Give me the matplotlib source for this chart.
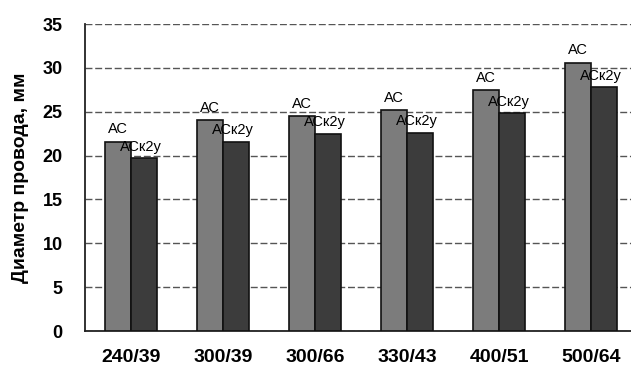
import numpy as np
import matplotlib
matplotlib.use("Agg")
import matplotlib.pyplot as plt

plt.rcParams['font.family'] = ['Liberation Sans', 'DejaVu Sans']

# данные
categories = ["240/39", "300/39", "300/66", "330/43", "400/51", "500/64"]
ac = [21.6, 24.0, 24.5, 25.2, 27.5, 30.6]
ack2y = [19.7, 21.6, 22.5, 22.6, 24.8, 27.8]
series_names = ["АС", "АСк2у"]
y_ticks = [0, 5, 10, 15, 20, 25, 30, 35]

fig = plt.figure(figsize=(6.31, 3.72), dpi=100)
ax = fig.add_axes([85 / 631, (372 - 331) / 372, 552 / 631, 307 / 372])

x = np.arange(len(categories))
w = 0.285
ax.bar(x - w / 2, ac, w, color="#7c7c7c", edgecolor="#111111", linewidth=1.2, zorder=3)
ax.bar(x + w / 2, ack2y, w, color="#3c3c3c", edgecolor="#111111", linewidth=1.2, zorder=3)

# подписи над столбиками
for i in range(len(categories)):
    ax.text(x[i] - w / 2, ac[i] + 0.6, series_names[0], ha="center", va="bottom",
            fontsize=10.5, color="black", zorder=4)
    ax.text(x[i] + w / 2 - 0.03, ack2y[i] + 0.5, series_names[1], ha="center", va="bottom",
            fontsize=10.5, color="black", zorder=4)

ax.set_xlim(-0.5, 5.5)
ax.set_ylim(0, 35)
ax.set_yticks(y_ticks)
ax.set_xticks(x)
ax.set_xticklabels(categories, fontsize=14, fontweight="semibold")
ax.tick_params(axis="y", labelsize=13, length=0, pad=16)
ax.tick_params(axis="x", length=0, pad=13)
for lbl in ax.get_yticklabels():
    lbl.set_fontweight("bold")

ax.grid(axis="y", color="#555555", linestyle=(0, (5, 2)), linewidth=1, zorder=0)
for s in ["top", "right"]:
    ax.spines[s].set_visible(False)
ax.spines["left"].set_color("#222222")
ax.spines["bottom"].set_color("#222222")
ax.spines["left"].set_linewidth(1.3)
ax.spines["bottom"].set_linewidth(1.3)

ax.set_ylabel("Диаметр провода, мм", fontsize=14, fontweight="bold", labelpad=10)

fig.savefig("out.png", dpi=100)
